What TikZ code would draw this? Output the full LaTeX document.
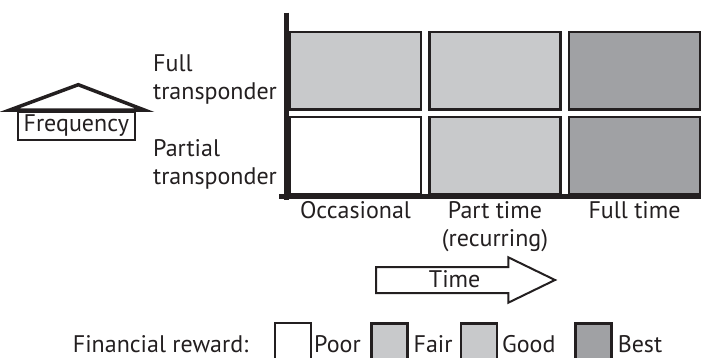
\documentclass[tikz,border=0pt]{standalone}
\usepackage{fontspec}
\setmainfont{PT Sans}
\usetikzlibrary{positioning, calc}

\definecolor{ink}{HTML}{231F20}
\definecolor{fairgray}{HTML}{C8C9CB}
\definecolor{goodgray}{HTML}{C8C9CB}
\definecolor{bestgray}{HTML}{A0A1A4}

\begin{document}
\begin{tikzpicture}[
  x=1pt, y=-1pt,
  cell/.style={rectangle, draw=ink, line width=2.5pt, minimum width=131pt, minimum height=77.5pt, inner sep=0pt},
  lbl/.style={font=\fontsize{24}{28}\selectfont, text=ink, inner sep=0pt},
  axis/.style={draw=ink, line width=4.5pt},
  freqbox/.style={rectangle, draw=ink, line width=2pt, minimum width=117pt, minimum height=28pt, inner sep=0pt, font=\fontsize{24}{28}\selectfont, text=ink},
  roof/.style={draw=ink, line width=3.5pt, line join=miter},
  swatch/.style={rectangle, draw=ink, line width=2.5pt, minimum width=36pt, minimum height=42pt, inner sep=0pt},
  timearrow/.style={draw=ink, line width=2pt, fill=white, line join=miter}
]
\useasboundingbox (0,0) rectangle (701,358);
\clip (0,0) rectangle (701,358);

% Grid of cells
\node[cell, fill=fairgray] (fullocc) at (355.5,70.7) {};
\node[cell, fill=goodgray, right=6pt of fullocc] (fullpart) {};
\node[cell, fill=bestgray, right=6pt of fullpart] (fullfull) {};
\node[cell, fill=white, below=5pt of fullocc] (partocc) {};
\node[cell, fill=fairgray, below=5pt of fullpart] (partpart) {};
\node[cell, fill=bestgray, below=5pt of fullfull] (partfull) {};

% Axes
\draw[axis] (286.3,12.7) -- (286.3,200);
\draw[axis] (279.3,196.3) -- (701,196.3);

% Row labels
\node[lbl, anchor=north west, align=left] (fulltr) at (153,55) {Full\\transponder};
\node[lbl, anchor=north west, align=left] (parttr) at (153,139) {Partial\\transponder};

% Frequency house
\node[freqbox] (freq) at (76.3,125.7) {Frequency};
\coordinate (peak) at ($(freq.north)+(2,-26)$);
\draw[roof] ($(freq.north west)+(-7.5,-0.5)$) -- (peak) -- ($(freq.north east)+(9,-0.5)$) -- cycle;

% Column labels
\node[lbl, below=5.5pt of partocc] (occ) {Occasional};
\node[lbl, below=5.5pt of partpart, align=center] (ptime) {Part time\\(recurring)};
\node[lbl, below=5.5pt of partfull] (ftime) {Full time};

% Time arrow
\draw[timearrow] (376,267) -- (508.3,267) -- (508.3,257.3) -- (555,280)
  -- (508.3,302.7) -- (508.3,293) -- (376,293) -- cycle;
\node[lbl, anchor=base] (time) at (454.7,287.7) {Time};

% Legend
\node[lbl, anchor=base west] (legtxt) at (72.7,352.7) {Financial reward:};
\node[swatch, fill=white, line width=2pt] (poorsw) at (292.5,344.3) {};
\node[lbl, right=2.5pt of poorsw] (poor) {Poor};
\node[swatch, fill=fairgray] (fairsw) at (389.7,344.3) {};
\node[lbl, right=4.5pt of fairsw] (fair) {Fair};
\node[swatch, fill=goodgray] (goodsw) at (479.2,344.3) {};
\node[lbl, right=3.5pt of goodsw] (good) {Good};
\node[swatch, fill=bestgray] (bestsw) at (593.3,344.3) {};
\node[lbl, right=5pt of bestsw] (best) {Best};

\end{tikzpicture}
\end{document}
